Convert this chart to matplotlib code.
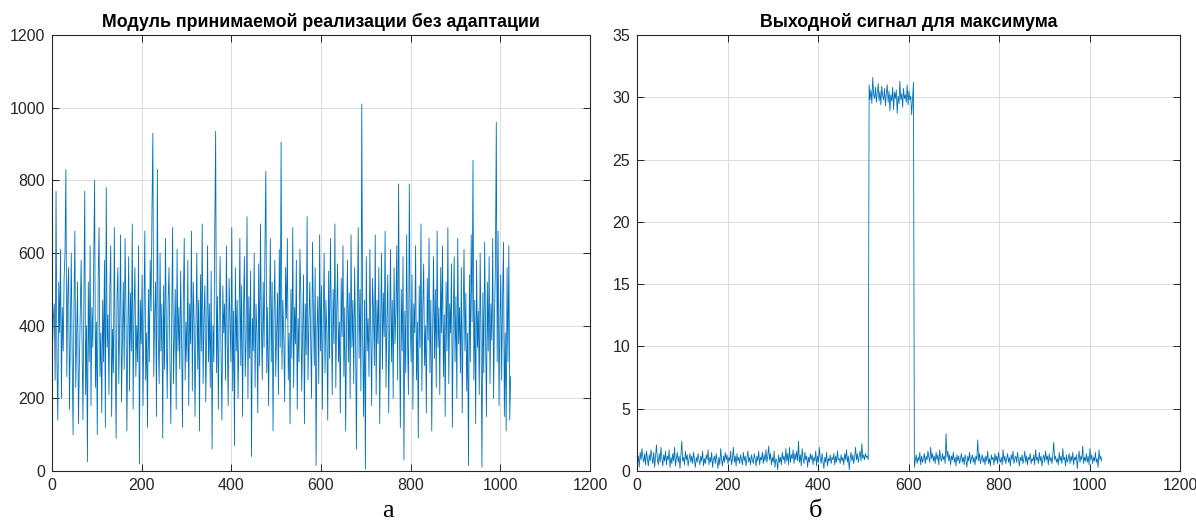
import numpy as np
import matplotlib
matplotlib.use("Agg")
import matplotlib.pyplot as plt

# panel a: magnitude of received realization (every 2nd sample)
module_vals = [
    340, 420, 460, 250, 770, 300, 140, 520, 380, 610, 200, 450, 330, 530, 600, 830,
    260, 480, 560, 170, 390, 600, 310, 100, 450, 660, 230, 370, 520, 130, 290, 430,
    580, 350, 140, 470, 770, 210, 400, 25, 520, 300, 620, 180, 450, 340, 560, 800,
    230, 410, 100, 530, 670, 260, 380, 160, 470, 300, 580, 120, 780, 340, 430, 210,
    500, 620, 150, 390, 270, 670, 330, 90, 480, 560, 240, 410, 650, 190, 350, 520,
    280, 640, 430, 110, 370, 590, 220, 490, 330, 680, 170, 450, 560, 260, 400, 300,
    620, 20, 470, 350, 540, 180, 410, 660, 250, 380, 120, 500, 300, 580, 440, 720,
    930, 260, 430, 520, 150, 830, 370, 240, 600, 330, 460, 90, 510, 280, 640, 390,
    200, 470, 560, 310, 130, 420, 670, 240, 380, 500, 170, 610, 330, 450, 280, 550,
    370, 120, 480, 640, 250, 410, 300, 580, 180, 460, 350, 660, 220, 520, 410, 150,
    390, 600, 280, 470, 110, 540, 330, 680, 240, 420, 510, 190, 370, 620, 300, 460,
    230, 550, 60, 400, 300, 650, 935, 270, 480, 170, 420, 590, 330, 140, 510, 380,
    460, 250, 620, 350, 180, 530, 410, 300, 670, 220, 440, 70, 560, 330, 470, 200,
    380, 640, 290, 510, 150, 430, 590, 260, 360, 700, 200, 480, 310, 550, 40, 420,
    330, 600, 230, 460, 380, 160, 570, 290, 680, 410, 250, 520, 340, 620, 825, 270,
    450, 180, 390, 640, 300, 520, 110, 430, 580, 260, 370, 490, 210, 610, 340, 905,
    280, 470, 360, 190, 560, 420, 640, 250, 380, 130, 500, 310, 670, 230, 450, 350,
    580, 170, 420, 300, 610, 480, 220, 390, 540, 130, 460, 320, 700, 250, 410, 520,
    360, 200, 630, 440, 290, 560, 15, 390, 480, 240, 650, 330, 510, 170, 420, 600,
    270, 470, 380, 140, 550, 310, 640, 420, 210, 500, 350, 680, 230, 440, 570, 300,
    410, 160, 530, 370, 620, 260, 450, 110, 390, 580, 300, 490, 200, 650, 340, 470,
    240, 560, 380, 60, 430, 670, 310, 500, 220, 1010, 360, 150, 470, 5, 590, 330,
    420, 260, 610, 380, 180, 530, 440, 290, 650, 210, 470, 350, 560, 130, 400, 600,
    280, 490, 370, 660, 230, 420, 540, 160, 390, 610, 300, 470, 200, 560, 350, 440,
    620, 250, 790, 380, 120, 500, 330, 590, 30, 440, 270, 650, 360, 210, 790, 420,
    300, 540, 170, 460, 380, 620, 250, 410, 90, 510, 340, 680, 220, 450, 570, 290,
    400, 160, 530, 360, 640, 270, 470, 110, 380, 590, 310, 500, 230, 660, 340, 450,
    210, 560, 380, 620, 260, 430, 150, 520, 330, 670, 240, 460, 380, 570, 120, 410,
    590, 300, 480, 200, 640, 350, 450, 270, 560, 160, 420, 610, 330, 490, 220, 380,
    15, 540, 300, 650, 410, 855, 250, 470, 130, 580, 340, 440, 210, 600, 370, 10,
    490, 270, 630, 380, 150, 520, 330, 590, 240, 460, 360, 640, 200, 430, 560, 960,
    300, 660, 180, 410, 540, 250, 470, 630, 150, 380, 110, 560, 300, 620, 140, 260,
]

# panel b: output signal for the maximum
noise_before = [
    0.6, 1.2, 0.3, 1.5, 0.9, 1.8, 1.1, 0.7, 1.4, 0.5, 1.6, 1.0, 0.4, 1.3, 0.8, 1.7,
    1.1, 0.6, 1.5, 0.3, 1.2, 2.1, 0.9, 0.5, 1.4, 0.7, 1.9, 1.0, 0.4, 1.3, 0.8, 1.6,
    0.5, 1.2, 0.9, 1.7, 0.3, 1.1, 0.6, 1.4, 0.8, 1.9, 0.4, 1.0, 1.5, 0.7, 1.2, 0.2,
    1.3, 2.4, 0.8, 1.1, 0.5, 1.6, 0.9, 1.3, 0.4, 1.0, 1.4, 0.7, 1.2, 0.6, 1.5, 0.9,
    0.3, 1.1, 0.7, 1.4, 0.9, 0.5, 1.2, 0.8, 1.6, 0.4, 1.0, 0.6, 1.3, 0.9, 1.7, 0.5,
    1.1, 0.7, 1.5, 0.3, 0.9, 1.2, 0.6, 1.4, 0.8, 0.2, 1.1, 0.5, 1.8, 0.9, 0.4, 1.2,
    0.7, 1.5, 0.9, 1.3, 0.6, 1.1, 0.8, 1.6, 0.5, 1.0, 1.9, 0.7, 1.2, 0.4, 1.4, 0.8,
    1.1, 0.6, 1.3, 0.9, 0.5, 1.5, 0.8, 1.2, 0.4, 1.0, 1.6, 0.7, 1.1, 0.5, 1.3, 0.9,
    0.6, 1.4, 1.0, 0.4, 1.2, 0.8, 1.6, 0.5, 1.1, 0.9, 1.5, 0.6, 1.3, 0.8, 1.7, 0.7,
    1.2, 2.0, 0.9, 1.4, 0.5, 1.1, 0.7, 1.6, 0.3, 1.0, 0.8, 0.1, 1.3, 0.7, 1.1, 0.5,
    1.5, 0.9, 1.2, 0.6, 1.8, 0.8, 1.4, 0.5, 1.9, 0.7, 1.3, 1.0, 1.7, 0.6, 1.4, 0.9,
    1.6, 0.8, 2.4, 0.7, 1.3, 0.4, 1.8, 1.0, 0.6, 1.5, 0.9, 1.2, 0.3, 1.1, 0.7, 1.4,
    0.9, 1.3, 0.5, 1.1, 0.8, 1.6, 0.4, 1.2, 0.7, 1.9, 1.0, 0.6, 1.4, 0.8, 0.2, 1.1,
    0.7, 1.5, 0.4, 1.0, 0.8, 1.3, 0.6, 1.1, 0.9, 1.4, 0.5, 1.2, 0.7, 1.6, 0.9, 1.0,
    0.6, 1.3, 0.8, 1.1, 0.5, 1.4, 0.9, 1.7, 0.7, 1.2, 0.1, 1.0, 1.5, 0.8, 1.3, 0.6,
    1.1, 1.9, 0.9, 1.4, 0.7, 1.2, 1.6, 0.8, 2.2, 1.0, 1.3, 0.9, 1.4, 1.1, 1.2, 0.9,
]
peak = [
    31.0, 29.8, 30.6, 29.5, 31.6, 30.2, 29.9, 30.8, 29.6, 30.4, 31.1, 29.7, 30.5,
    29.4, 30.9, 30.1, 29.8, 30.7, 29.3, 30.3, 31.0, 29.6, 30.5, 28.9, 30.2, 29.7,
    30.8, 29.0, 30.4, 29.9, 30.6, 28.7, 30.1, 29.5, 31.3, 29.8, 30.3, 29.2, 30.7,
    29.9, 30.2, 29.6, 31.0, 29.4, 30.5, 29.8, 30.1, 28.6, 29.9, 31.2,
]
noise_after = [
    0.3, 0.9, 1.3, 0.6, 1.1, 0.8, 1.5, 0.5, 1.2, 0.7, 1.0, 1.4, 0.6, 1.2, 0.9, 1.6,
    1.1, 0.7, 1.9, 1.0, 1.4, 0.8, 1.2, 0.6, 1.5, 0.9, 1.3, 0.5, 1.7, 1.0, 0.8, 1.4,
    0.9, 1.2, 0.6, 3.0, 1.1, 1.6, 0.8, 1.3, 0.5, 1.2, 0.9, 1.5, 0.7, 1.1, 0.4, 1.3,
    0.8, 1.2, 0.6, 1.0, 1.4, 0.7, 1.1, 0.5, 1.3, 0.9, 0.3, 1.2, 0.8, 1.5, 0.6, 1.0,
    1.3, 0.7, 1.1, 0.5, 1.2, 0.9, 2.5, 0.8, 1.4, 0.6, 1.0, 1.3, 0.7, 1.1, 0.5, 1.2,
    0.8, 1.6, 0.6, 1.0, 0.4, 1.3, 0.9, 1.1, 0.5, 1.4, 0.8, 1.2, 0.6, 1.5, 0.9, 0.7,
    1.1, 0.5, 1.7, 0.8, 1.2, 0.6, 1.0, 1.4, 0.7, 1.1, 0.4, 1.3, 0.9, 1.6, 0.6, 1.0,
    1.2, 0.7, 1.5, 0.9, 0.4, 1.1, 0.8, 1.3, 0.6, 1.0, 1.6, 0.7, 1.2, 0.5, 1.1, 0.9,
    1.4, 0.6, 1.0, 0.8, 1.3, 0.5, 1.7, 0.9, 1.1, 0.6, 1.5, 0.8, 1.2, 0.4, 1.0, 1.3,
    0.7, 1.6, 0.9, 1.2, 0.5, 1.4, 0.8, 1.1, 0.6, 1.3, 2.3, 0.9, 1.2, 0.7, 1.0, 0.5,
    1.5, 0.8, 1.2, 0.6, 1.8, 0.9, 1.1, 0.4, 1.3, 0.7, 1.0, 1.4, 0.6, 1.2, 0.8, 1.5,
    0.5, 1.1, 0.9, 1.3, 0.2, 1.0, 1.6, 0.7, 1.2, 0.9, 2.0, 0.6, 1.1, 0.8, 1.4, 0.7,
    1.2, 0.5, 1.8, 0.9, 1.3, 0.6, 1.1, 0.8, 1.5, 0.7, 1.0, 0.3, 1.7, 0.9, 1.2, 0.8,
]

titles = ["Модуль принимаемой реализации без адаптации", "Выходной сигнал для максимума"]
captions = ["а", "б"]

line_color = "#0072BD"
axis_color = "#262626"

plt.rcParams["font.family"] = ["Liberation Sans", "DejaVu Sans"]

fig = plt.figure(figsize=(11.96, 5.22), dpi=100)
ax1 = fig.add_axes([52 / 1196, 1 - 471 / 522, 538 / 1196, 436 / 522])
ax2 = fig.add_axes([637 / 1196, 1 - 471 / 522, 543 / 1196, 436 / 522])

out_vals = noise_before + peak + noise_after
x1 = np.arange(len(module_vals)) * 2 + 1
x2 = np.arange(len(out_vals)) * 2 + 1

ax1.plot(x1, module_vals, color=line_color, lw=0.6)
ax2.plot(x2, out_vals, color=line_color, lw=0.6)

ax1.set_ylim(0, 1200)
ax1.set_yticks(np.arange(0, 1201, 200))
ax2.set_ylim(0, 35)
ax2.set_yticks(np.arange(0, 36, 5))

for ax, title in zip([ax1, ax2], titles):
    ax.set_xlim(0, 1200)
    ax.set_xticks(np.arange(0, 1201, 200))
    ax.grid(True, color="#dcdcdc", lw=0.7)
    ax.set_axisbelow(True)
    ax.tick_params(direction="in", length=5, width=0.7, top=True, right=True,
                   colors=axis_color, labelsize=11.5, pad=5)
    for s in ax.spines.values():
        s.set_color(axis_color)
        s.set_linewidth(0.8)
    ax.set_title(title, fontsize=12.8, fontweight="bold", color="black", pad=6)

fig.text(388 / 1196, 1 - 511 / 522, captions[0], ha="center", va="center",
         fontsize=19, family="Liberation Serif")
fig.text(815 / 1196, 1 - 511 / 522, captions[1], ha="center", va="center",
         fontsize=19, family="Liberation Serif")

fig.savefig("out.png", dpi=100)
